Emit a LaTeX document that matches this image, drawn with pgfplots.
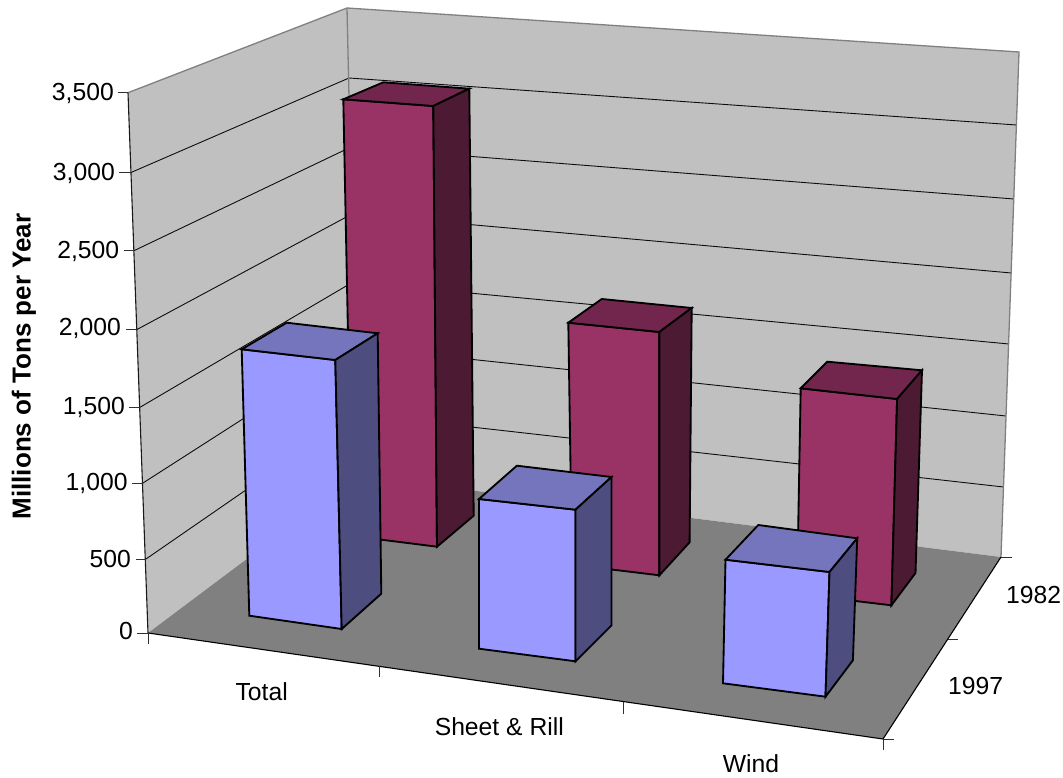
\documentclass[border=0pt]{standalone}
\usepackage{pgfplots}
\pgfplotsset{compat=1.18}
\usepackage{fontspec}
\setmainfont{Liberation Sans}
\definecolor{wall}{HTML}{C0C0C0}
\definecolor{flr}{HTML}{808080}
\definecolor{blueF}{HTML}{9999FF}
\definecolor{blueT}{HTML}{7575BE}
\definecolor{blueS}{HTML}{4D4D80}
\definecolor{plumF}{HTML}{993366}
\definecolor{plumT}{HTML}{73264D}
\definecolor{plumS}{HTML}{4D1A33}
\definecolor{edgeG}{HTML}{808080}
\definecolor{tickG}{HTML}{303030}
\pgfplotsset{
  face/.style={draw=black,line width=1.85pt,line join=miter,fill=#1},
  grid3d/.style={draw=black!95,line width=0.9pt},
  tickmark/.style={draw=tickG,line width=1pt},
}
\newcommand{\lbl}{\fontsize{24.7pt}{28pt}\selectfont}
\begin{document}
\begin{tikzpicture}[x=1pt,y=1pt]
\useasboundingbox (0,0) rectangle (1063,778);
\begin{axis}[
  at={(0pt,0pt)},anchor=south west,
  scale only axis,width=1063pt,height=778pt,
  xmin=0,xmax=1063,ymin=0,ymax=778,y dir=reverse,
  axis lines=none,clip=false,
]
% side wall and back wall
\addplot[fill=wall,draw=none] coordinates {(128,92.7)(347,8)(357.5,476)(148,633)} --cycle;
\addplot[fill=wall,draw=none] coordinates {(347,8)(1019,52)(1001,557)(357.5,476)} --cycle;
% gridlines: front of side wall, back corner, far end of back wall
\addplot[grid3d] coordinates {(131,172.5)(349,78)(1016.5,125)};
\addplot[grid3d] coordinates {(134,250.7)(351,147)(1014,199)};
\addplot[grid3d] coordinates {(137,329.5)(352,214)(1011.5,273)};
\addplot[grid3d] coordinates {(140,407.3)(353,282)(1009,344)};
\addplot[grid3d] coordinates {(143,483)(355,347)(1006,416)};
\addplot[grid3d] coordinates {(146,559)(356,414)(1003.5,487)};
% wall outlines
\addplot[draw=edgeG,line width=1.3pt] coordinates {(128,92.7)(347,8)(1019,52)(1001,557)};
\addplot[draw=edgeG,line width=1.3pt] coordinates {(347,8)(357.5,476)};
\addplot[draw=black!90,line width=1.1pt] coordinates {(128,92.7)(148,633)};
% floor
\addplot[fill=flr,draw=none] coordinates {(148,633)(357.5,476)(1001,557)(883,739)} --cycle;
\addplot[draw=black,line width=1.1pt] coordinates {(148,633)(883,739)(1001,557)};
% value axis ticks
\addplot[tickmark] coordinates {(117.5,92.7)(128,92.7)};
\addplot[tickmark] coordinates {(119,172.5)(131,172.5)};
\addplot[tickmark] coordinates {(124,250.7)(134,250.7)};
\addplot[tickmark] coordinates {(126,329.5)(137,329.5)};
\addplot[tickmark] coordinates {(129.3,407.3)(140,407.3)};
\addplot[tickmark] coordinates {(131.7,483)(143,483)};
\addplot[tickmark] coordinates {(136,559)(146,559)};
\addplot[tickmark] coordinates {(137,633)(148,633)};
% category ticks
\addplot[tickmark] coordinates {(148,633)(148,644)};
\addplot[tickmark] coordinates {(379.3,665.7)(379.3,676.5)};
\addplot[tickmark] coordinates {(623.4,702.3)(623.4,714)};
\addplot[tickmark] coordinates {(883,739)(883,750)};
% series ticks
\addplot[tickmark] coordinates {(1001,557)(1011.5,557)};
\addplot[tickmark] coordinates {(947.8,639.7)(957.6,639.7)};
\addplot[tickmark] coordinates {(883,739)(893.5,739)};
% 1982 columns: Total, Sheet & Rill, Wind
\addplot[face=plumF] coordinates {(343.3,99.3)(433.3,106)(437,546.7)(352,536)} --cycle;
\addplot[face=plumT] coordinates {(343.3,99.3)(383.3,82.3)(469.3,88.7)(433.3,106)} --cycle;
\addplot[face=plumS] coordinates {(433.3,106)(469.3,88.7)(473.7,515.7)(437,546.7)} --cycle;
\addplot[face=plumF] coordinates {(568.3,322.7)(659.4,332)(659.4,575.3)(572,564.7)} --cycle;
\addplot[face=plumT] coordinates {(568.3,322.7)(601.8,299)(691.7,308)(659.4,332)} --cycle;
\addplot[face=plumS] coordinates {(659.4,332)(691.7,308)(689.6,542.3)(659.4,575.3)} --cycle;
\addplot[face=plumF] coordinates {(800.7,388.3)(897.1,399)(891.4,605.3)(797,594)} --cycle;
\addplot[face=plumT] coordinates {(800.7,388.3)(827.3,361.7)(922,370.3)(897.1,399)} --cycle;
\addplot[face=plumS] coordinates {(897.1,399)(922,370.3)(915.5,573)(891.4,605.3)} --cycle;
% 1997 columns: Total, Sheet & Rill, Wind
\addplot[face=blueF] coordinates {(241.7,349.3)(335.3,360)(341.7,629)(249.3,615.7)} --cycle;
\addplot[face=blueT] coordinates {(241.7,349.3)(286.7,322.7)(377.7,333.3)(335.3,360)} --cycle;
\addplot[face=blueS] coordinates {(335.3,360)(377.7,333.3)(381.3,593.7)(341.7,629)} --cycle;
\addplot[face=blueF] coordinates {(479,499)(575.5,509.7)(575.5,661.3)(479,648.7)} --cycle;
\addplot[face=blueT] coordinates {(479,499)(516.9,465.7)(611.5,477)(575.5,509.7)} --cycle;
\addplot[face=blueS] coordinates {(575.5,509.7)(611.5,477)(611.5,625.3)(575.5,661.3)} --cycle;
\addplot[face=blueF] coordinates {(725.5,559.7)(829.5,572)(825.5,696.7)(723,683.3)} --cycle;
\addplot[face=blueT] coordinates {(725.5,559.7)(758.3,525)(857.2,538.3)(829.5,572)} --cycle;
\addplot[face=blueS] coordinates {(829.5,572)(857.2,538.3)(852.9,660.3)(825.5,696.7)} --cycle;
% value axis labels
\node[anchor=base east,inner sep=0pt] at (axis cs:114,100.4) {\lbl 3,500};
\node[anchor=base east,inner sep=0pt] at (axis cs:115,180.4) {\lbl 3,000};
\node[anchor=base east,inner sep=0pt] at (axis cs:119.3,258.4) {\lbl 2,500};
\node[anchor=base east,inner sep=0pt] at (axis cs:121,335.7) {\lbl 2,000};
\node[anchor=base east,inner sep=0pt] at (axis cs:125,414.7) {\lbl 1,500};
\node[anchor=base east,inner sep=0pt] at (axis cs:127.7,490.7) {\lbl 1,000};
\node[anchor=base east,inner sep=0pt] at (axis cs:131,567.7) {\lbl 500};
\node[anchor=base east,inner sep=0pt] at (axis cs:133,639.7) {\lbl 0};
% category and series labels
\node[anchor=base,inner sep=0pt] at (axis cs:261.7,700.7) {\lbl Total};
\node[anchor=base,inner sep=0pt] at (axis cs:499.3,735.7) {\lbl Sheet \& Rill};
\node[anchor=base,inner sep=0pt] at (axis cs:751,772.4) {\lbl Wind};
\node[anchor=base,inner sep=0pt] at (axis cs:1033.6,603.4) {\lbl 1982};
\node[anchor=base,inner sep=0pt] at (axis cs:975.7,694.4) {\lbl 1997};
% vertical axis title
\node[rotate=90,anchor=base,inner sep=0pt,font=\bfseries] at (axis cs:30.7,366.5) {\fontsize{26pt}{30pt}\selectfont Millions of Tons per Year};
\end{axis}
\end{tikzpicture}
\end{document}
